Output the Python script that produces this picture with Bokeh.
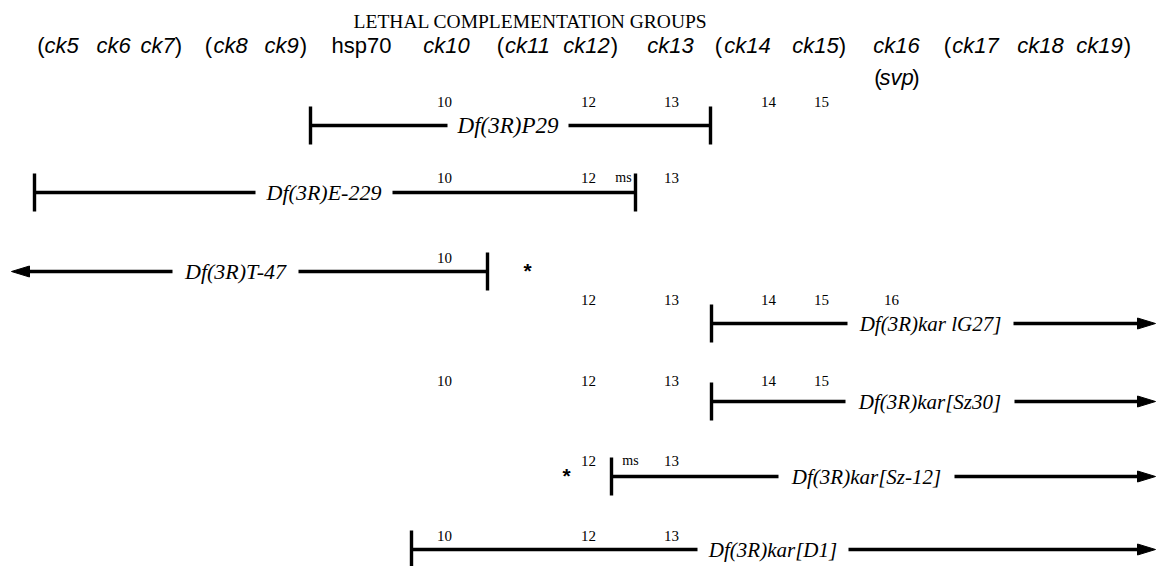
from bokeh.plotting import figure
from bokeh.models import Range1d, ColumnDataSource
from bokeh.core.properties import value
from bokeh.embed import file_html
from bokeh.resources import INLINE

# ---------------- data ----------------
title_text = "LETHAL COMPLEMENTATION GROUPS"

gene_words = ["(", "ck5", "ck6", "ck7", ")", "(", "ck8", "ck9", ")", "hsp70", "ck10",
              "(", "ck11", "ck12", ")", "ck13", "(", "ck14", "ck15", ")", "ck16",
              "(", "ck17", "ck18", "ck19", ")"]
gene_center = [40.5, 61, 113, 157, 178, 208, 230, 281, 303, 361, 446,
               500, 527, 586, 614, 670, 718, 747, 815, 842, 896,
               947, 975, 1040, 1099, 1127]
gene_italic = [w.startswith("ck") for w in gene_words]

svp_words = ["(", "svp", ")"]
svp_center = [877.5, 896, 915.5]
svp_italic = [False, True, False]

band_names = ["10", "12", "13", "14", "15", "16"]
band_pos = [444, 588, 671, 768, 821, 891]

deletions = ["Df(3R)P29", "Df(3R)E-229", "Df(3R)T-47", "Df(3R)kar lG27]",
             "Df(3R)kar[Sz30]", "Df(3R)kar[Sz-12]", "Df(3R)kar[D1]"]
del_left = [310, 34, 11, 711, 711, 611, 411]
del_right = [710, 635, 487, 1155, 1155, 1155, 1155]
left_open = [False, False, True, False, False, False, False]
right_open = [False, False, False, True, True, True, True]
gap_left = [447, 255, 172, 847, 845, 778, 697]
gap_right = [568, 392, 298, 1013, 1014, 954, 848]
row_y = [125, 192, 271, 323, 401, 476, 549]
band_y = [101, 177, 257, 299, 380, 460, 535]
row_bands = [["10", "12", "13", "14", "15"], ["10", "12", "13"], ["10"],
             ["12", "13", "14", "15", "16"], ["10", "12", "13", "14", "15"],
             ["12", "13"], ["10", "12", "13"]]

ms_rows = [1, 5]
ms_x = [623, 630]
star_rows = [2, 5]
star_x = [527, 566]

# ---------------- styles ----------------
label_size = ["23px", "22px", "22px", "21px", "21px", "21px", "21px"]

# ---------------- figure ----------------
p = figure(width=1157, height=566, x_range=Range1d(0, 1157), y_range=Range1d(566, 0),
           output_backend="svg", toolbar_location=None, min_border=0)
p.axis.visible = False
p.grid.visible = False
p.outline_line_color = None
p.background_fill_color = "white"

SERIF = value("Liberation Serif")
SANS = value("Liberation Sans")
LW = 3.6
TICK_H = 19
HEAD_L = 18
HEAD_W = 5.5

# title
p.text(x=[530], y=[21], text=[title_text], text_font=SERIF, text_font_size="19.5px",
       text_align="center", text_baseline="middle", text_color="black")

# gene header
gsrc = ColumnDataSource(dict(x=gene_center, y=[45] * len(gene_center), t=gene_words,
                             st=["italic" if i else "normal" for i in gene_italic]))
p.text(x="x", y="y", text="t", text_font_style="st", source=gsrc, text_font=SANS,
       text_font_size="22px", text_align="center", text_baseline="middle", text_color="black")
ssrc = ColumnDataSource(dict(x=svp_center, y=[77] * len(svp_center), t=svp_words,
                             st=["italic" if i else "normal" for i in svp_italic]))
p.text(x="x", y="y", text="t", text_font_style="st", source=ssrc, text_font=SANS,
       text_font_size="22px", text_align="center", text_baseline="middle", text_color="black")

# deletion lines
x0, x1, yy = [], [], []
for i in range(len(deletions)):
    lend = del_left[i] + (HEAD_L - 2 if left_open[i] else 0)
    rend = del_right[i] - (HEAD_L - 2 if right_open[i] else 0)
    x0 += [lend, gap_right[i]]
    x1 += [gap_left[i], rend]
    yy += [row_y[i], row_y[i]]
p.segment(x0=x0, y0=yy, x1=x1, y1=yy, line_width=LW, line_color="black", line_cap="butt")

# breakpoint ticks
tx, ty0, ty1 = [], [], []
for i in range(len(deletions)):
    if not left_open[i]:
        tx.append(del_left[i]); ty0.append(row_y[i] - TICK_H); ty1.append(row_y[i] + TICK_H)
    if not right_open[i]:
        tx.append(del_right[i]); ty0.append(row_y[i] - TICK_H); ty1.append(row_y[i] + TICK_H)
p.segment(x0=tx, y0=ty0, x1=tx, y1=ty1, line_width=3.4, line_color="black")

# arrow heads
axs, ays = [], []
for i in range(len(deletions)):
    if left_open[i]:
        t = del_left[i]
        axs.append([t, t + HEAD_L, t + HEAD_L]); ays.append([row_y[i], row_y[i] - HEAD_W, row_y[i] + HEAD_W])
    if right_open[i]:
        t = del_right[i]
        axs.append([t, t - HEAD_L, t - HEAD_L]); ays.append([row_y[i], row_y[i] - HEAD_W, row_y[i] + HEAD_W])
p.patches(xs=axs, ys=ays, fill_color="black", line_color="black", line_width=1)

# deletion labels
lx = [(a + b) / 2 for a, b in zip(gap_left, gap_right)]
lsrc = ColumnDataSource(dict(x=lx, y=row_y, t=deletions, fs=label_size))
p.text(x="x", y="y", text="t", text_font_size="fs", source=lsrc, text_font=SERIF,
       text_font_style="italic", text_align="center", text_baseline="middle", text_color="black")

# band numbers
bx, by, bt = [], [], []
for i, bands in enumerate(row_bands):
    for b in bands:
        bx.append(band_pos[band_names.index(b)]); by.append(band_y[i]); bt.append(b)
p.text(x=bx, y=by, text=bt, text_font=SERIF, text_font_size="15px",
       text_align="center", text_baseline="middle", text_color="black")

# ms marks
p.text(x=ms_x, y=[band_y[r] for r in ms_rows], text=["ms"] * len(ms_x), text_font=SERIF,
       text_font_size="14px", text_align="center", text_baseline="middle", text_color="black")

# asterisks
p.text(x=star_x, y=[row_y[r] - 1 for r in star_rows], text=["*"] * len(star_x), text_font=SANS,
       text_font_style="bold", text_font_size="21px", text_align="center", text_baseline="middle",
       text_color="black")

open("out.html", "w").write(file_html(p, INLINE))
